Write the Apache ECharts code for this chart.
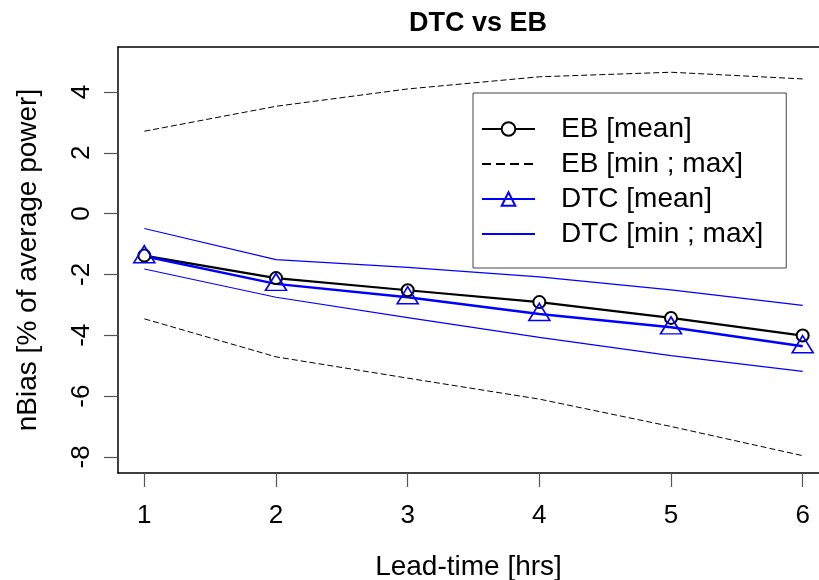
<!DOCTYPE html>
<html>
<head>
<meta charset="utf-8">
<script src="https://cdn.jsdelivr.net/npm/echarts@6/dist/echarts.min.js"></script>
<style>html,body{margin:0;padding:0;background:#fff}#c{width:819px;height:580px}</style>
</head>
<body>
<div id="c"></div>
<script>
var leadTime = [1, 2, 3, 4, 5, 6];
var ebMean = [-1.38, -2.12, -2.52, -2.91, -3.43, -4.01];
var ebMin = [-3.46, -4.71, -5.41, -6.10, -7.00, -7.96];
var ebMax = [2.71, 3.53, 4.10, 4.50, 4.65, 4.43];
var dtcMean = [-1.40, -2.31, -2.75, -3.30, -3.74, -4.36];
var dtcMin = [-1.82, -2.75, -3.42, -4.07, -4.67, -5.19];
var dtcMax = [-0.49, -1.51, -1.77, -2.08, -2.51, -3.02];
var xTicks = [1, 2, 3, 4, 5, 6];
var yTicks = [-8, -6, -4, -2, 0, 2, 4];

function pairs(ys) { return leadTime.map(function (x, i) { return [x, ys[i]]; }); }

var FONT = '"Liberation Sans", Arial, sans-serif';
var chart = echarts.init(document.getElementById('c'), null, { renderer: 'canvas' });
chart.setOption({
  animation: false,
  backgroundColor: '#fff',
  title: {
    text: 'DTC vs EB', left: 473, top: 5, textAlign: 'center',
    textStyle: { fontFamily: FONT, fontSize: 27, fontWeight: 'bold', color: '#000' }
  },
  legend: {
    orient: 'vertical', left: 473, top: 93,
    padding: [22, 23, 20, 8], itemGap: 7, itemWidth: 53, itemHeight: 17,
    borderColor: '#444', borderWidth: 1, backgroundColor: '#fff',
    textStyle: { fontFamily: FONT, fontSize: 28, color: '#000', padding: [0, 0, 0, 21] },
    data: [
      { name: 'EB [mean]' },
      { name: 'EB [min ; max]', itemStyle: { opacity: 0 }, lineStyle: { type: [9, 5] } },
      { name: 'DTC [mean]' },
      { name: 'DTC [min ; max]', itemStyle: { opacity: 0 } }
    ]
  },
  grid: { left: 118, top: 47, right: 0, bottom: 107, show: false, outerBoundsMode: 'none', containLabel: false },
  xAxis: [{
    type: 'value', min: 0.8, max: 6.124, position: 'bottom',
    name: 'Lead-time [hrs]', nameLocation: 'middle', nameGap: 80,
    nameTextStyle: { fontFamily: FONT, fontSize: 28, color: '#000' },
    axisLine: { show: true, onZero: false, lineStyle: { color: '#000', width: 1.5 } },
    axisTick: { show: true, length: 14, customValues: xTicks, lineStyle: { color: '#555', width: 1.2 } },
    axisLabel: { customValues: xTicks, margin: 30, fontFamily: FONT, fontSize: 26, color: '#000' },
    splitLine: { show: false }
  }, {
    type: 'value', min: 0.8, max: 6.124, position: 'top',
    axisLine: { show: true, onZero: false, lineStyle: { color: '#000', width: 1.5 } },
    axisTick: { show: false }, axisLabel: { show: false }, splitLine: { show: false }
  }],
  yAxis: {
    type: 'value', min: -8.53, max: 5.48,
    name: 'nBias [% of average power]', nameLocation: 'middle', nameGap: 76,
    nameTextStyle: { fontFamily: FONT, fontSize: 28, color: '#000' },
    axisLine: { show: true, onZero: false, lineStyle: { color: '#000', width: 1.5 } },
    axisTick: { show: true, length: 14, customValues: yTicks, lineStyle: { color: '#555', width: 1.2 } },
    axisLabel: { customValues: yTicks, rotate: 90, margin: 23, fontFamily: FONT, fontSize: 26, color: '#000' },
    splitLine: { show: false }
  },
  series: [
    { name: 'EB [min ; max]', type: 'line', data: pairs(ebMax), symbol: 'none', lineStyle: { color: '#000', width: 1, type: [6, 3] }, itemStyle: { color: '#000' } },
    { name: 'EB [min ; max]', type: 'line', data: pairs(ebMin), symbol: 'none', lineStyle: { color: '#000', width: 1, type: [6, 3] }, itemStyle: { color: '#000' } },
    { name: 'DTC [min ; max]', type: 'line', data: pairs(dtcMax), symbol: 'none', lineStyle: { color: '#0000ff', width: 1.2 }, itemStyle: { color: '#0000ff' } },
    { name: 'DTC [min ; max]', type: 'line', data: pairs(dtcMin), symbol: 'none', lineStyle: { color: '#0000ff', width: 1.2 }, itemStyle: { color: '#0000ff' } },
    { name: 'EB [mean]', type: 'line', data: pairs(ebMean), symbol: 'circle', symbolSize: 12, showSymbol: true,
      lineStyle: { color: '#000', width: 2.2 }, itemStyle: { color: '#fff', borderColor: '#000', borderWidth: 2 } },
    { name: 'DTC [mean]', type: 'line', data: pairs(dtcMean), symbol: 'triangle', symbolSize: [21, 17], symbolOffset: [0, -2], showSymbol: true,
      lineStyle: { color: '#0000ff', width: 2.5 }, itemStyle: { color: 'rgba(0,0,0,0)', borderColor: '#0000ff', borderWidth: 1.6 } }
  ]
});
</script>
</body>
</html>
